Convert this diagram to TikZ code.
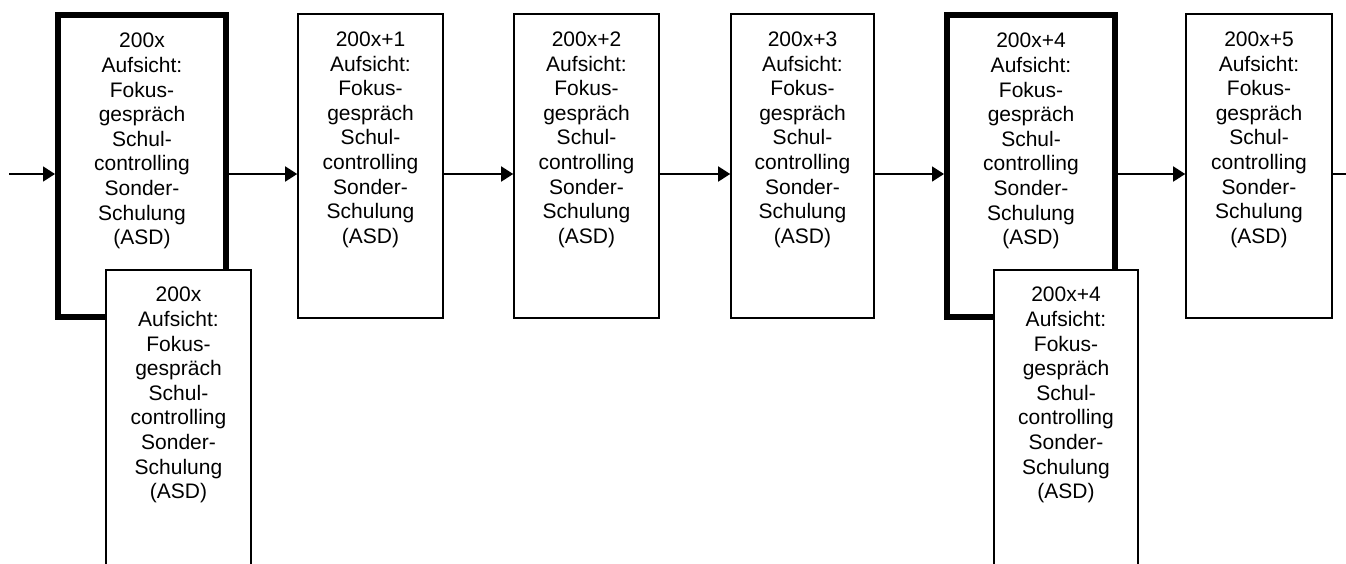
\documentclass[tikz,border=0pt]{standalone}
\usepackage{fontspec}
\setmainfont{Liberation Sans}
\usetikzlibrary{arrows.meta}
\tikzset{
  thinbox/.style={draw=black, line width=1.6pt, fill=white, rectangle, inner sep=0pt},
  thickbox/.style={draw=black, line width=6pt, fill=white, rectangle, inner sep=0pt},
  boxtext/.style={anchor=north, align=center, inner sep=0pt, font=\fontsize{21}{24.6}\selectfont},
  conn/.style={draw=black, line width=1.6pt, -{Triangle[length=12pt,width=15pt]}},
  plainconn/.style={draw=black, line width=1.6pt}
}
\newcommand{\boxlabel}[1]{#1\\Aufsicht:\\Fokus-\\gespräch\\Schul-\\controlling\\Sonder-\\Schulung\\(ASD)}
\begin{document}
\begin{tikzpicture}[x=1pt,y=-1pt]
\useasboundingbox (0,0) rectangle (1346,563);
\clip (0,0) rectangle (1346,563);
% top row boxes
\node[thickbox, minimum width=168pt, minimum height=302pt] (b1) at (142,166) {};
\node[thinbox, minimum width=145pt, minimum height=304pt] (b2) at (370.5,166) {};
\node[thinbox, minimum width=145pt, minimum height=304pt] (b3) at (586.5,166) {};
\node[thinbox, minimum width=143pt, minimum height=304pt] (b4) at (802.5,166) {};
\node[thickbox, minimum width=168pt, minimum height=302pt] (b5) at (1031,166) {};
\node[thinbox, minimum width=146pt, minimum height=304pt] (b6) at (1259,166) {};
% overlapping boxes
\node[thinbox, minimum width=145pt, minimum height=340pt] (o1) at (178.5,440) {};
\node[thinbox, minimum width=144pt, minimum height=340pt] (o5) at (1066,440) {};
% texts
\node[boxtext] (t1) at (142,33) {\boxlabel{200x}};
\node[boxtext] (t2) at (370.5,31.7) {\boxlabel{200x+1}};
\node[boxtext] (t3) at (586.5,31.7) {\boxlabel{200x+2}};
\node[boxtext] (t4) at (802.5,31.7) {\boxlabel{200x+3}};
\node[boxtext] (t5) at (1031,33) {\boxlabel{200x+4}};
\node[boxtext] (t6) at (1259,31.7) {\boxlabel{200x+5}};
\node[boxtext] (to1) at (178.5,287) {\boxlabel{200x}};
\node[boxtext] (to5) at (1066,287) {\boxlabel{200x+4}};
% connectors
\coordinate (in) at (9,174);
\coordinate (out) at (1346,174);
\draw[conn] (in) -- (b1.west |- in);
\draw[conn] (b1.east |- in) -- (b2.west |- in);
\draw[conn] (b2.east |- in) -- (b3.west |- in);
\draw[conn] (b3.east |- in) -- (b4.west |- in);
\draw[conn] (b4.east |- in) -- (b5.west |- in);
\draw[conn] (b5.east |- in) -- (b6.west |- in);
\draw[plainconn] (b6.east |- in) -- (out);
\end{tikzpicture}
\end{document}
